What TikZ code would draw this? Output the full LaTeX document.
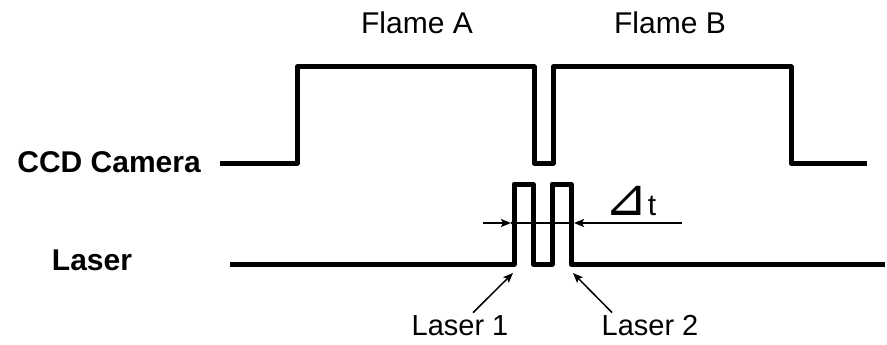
\documentclass[tikz,border=0pt]{standalone}
\usepackage{fontspec}
\setmainfont{Liberation Sans}
\newfontfamily\symfont{DejaVu Sans}
\usetikzlibrary{arrows.meta}

\begin{document}
\begin{tikzpicture}[x=1pt, y=-1pt,
  lbl/.style={font=\fontsize{30}{36}\selectfont, inner sep=0pt},
  boldlbl/.style={font=\fontsize{30}{36}\selectfont\bfseries, inner sep=0pt},
  wave/.style={line width=5pt, line join=round},
  arrow/.style={-{Stealth[length=10pt, width=8pt, inset=2pt]}, line width=1.5pt},
]
  \useasboundingbox (0,0) rectangle (887,345);

  % Frame titles
  \node[lbl] (flameA) at (417, 23) {Flame A};
  \node[lbl] (flameB) at (670, 23) {Flame B};

  % Signal names
  \node[boldlbl, anchor=east] (ccd) at (201, 162) {CCD Camera};
  \node[boldlbl] (laser) at (92, 260) {Laser};

  % CCD camera exposure
  \draw[wave] (220, 163) -- (297, 163) -- (297, 67) -- (534, 67) -- (534, 163)
    -- (553, 163) -- (553, 67) -- (791, 67) -- (791, 163) -- (867, 163);

  % Laser pulses
  \draw[wave] (230, 264) -- (514, 264) -- (514, 184) -- (533, 184) -- (533, 264)
    -- (552, 264) -- (552, 184) -- (571, 184) -- (571, 264) -- (885, 264);

  % Pulse spacing
  \coordinate (dtL) at (483, 223);
  \coordinate (dtR) at (682, 223);
  \coordinate (p1) at (511, 223);
  \coordinate (p2) at (574, 223);
  \draw[line width=1.2pt] (p1) -- (p2);
  \draw[arrow] (dtL) -- (p1);
  \draw[arrow] (dtR) -- (p2);
  \node[lbl, anchor=base west] (dt) at (604, 215)
    {{\symfont\fontsize{52}{52}\selectfont ⊿}t};

  % Pulse labels
  \node[lbl, font=\fontsize{29}{34}\selectfont] (laser1) at (460, 326) {Laser 1};
  \node[lbl, font=\fontsize{29}{34}\selectfont] (laser2) at (650, 326) {Laser 2};
  \coordinate (l1tip) at (513, 273);
  \coordinate (l2tip) at (573, 273);
  \draw[arrow] (laser1.north) ++(13, -3) -- (l1tip);
  \draw[arrow] (laser2.north) ++(-38, -3) -- (l2tip);
\end{tikzpicture}
\end{document}
